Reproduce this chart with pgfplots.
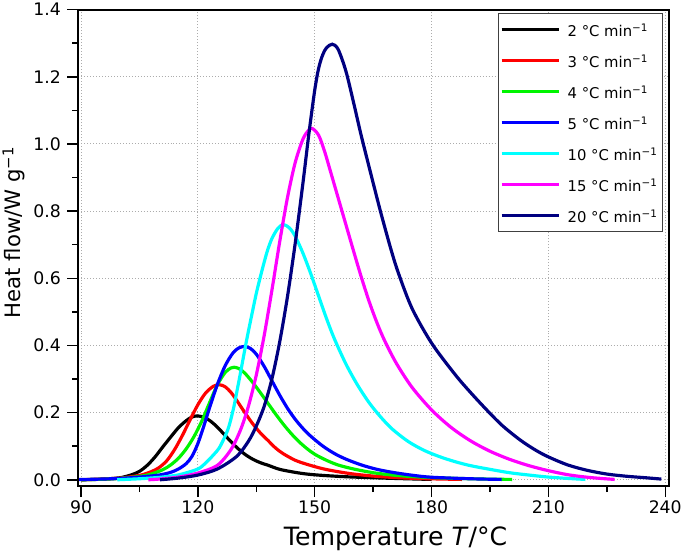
\documentclass[border=0pt]{standalone}
\usepackage{pgfplots}
\pgfplotsset{compat=1.18}
\usepackage{fontspec}
\setmainfont{DejaVu Sans}
\definecolor{cgreen}{RGB}{0,245,0}
\definecolor{cblue}{RGB}{0,0,255}
\definecolor{ccyan}{RGB}{0,255,255}
\definecolor{cmag}{RGB}{255,0,255}
\definecolor{cnavy}{RGB}{0,0,128}
\begin{document}
\begin{tikzpicture}
\begin{axis}[
  scale only axis,
  width=596bp, height=480.7bp,
  xmin=89.3, xmax=241, ymin=-0.019, ymax=1.4,
  xtick={90,120,150,180,210,240},
  minor xtick={105,135,165,195,225},
  ytick={0,0.2,0.4,0.6,0.8,1.0,1.2,1.4},
  minor ytick={0.1,0.3,0.5,0.7,0.9,1.1,1.3},
  tick align=outside,
  xtick pos=bottom, ytick pos=left,
  major tick length=11bp, minor tick length=6bp,
  tick style={black, line width=1.5bp},
  axis line style={line width=1.8bp},
  grid=major,
  major grid style={gray!65, line width=0.9bp, dash pattern=on 1bp off 2bp},
  /pgf/number format/assume math mode=true,
  ticklabel style={font=\fontsize{17.5}{20}\selectfont},
  yticklabel style={xshift=-3bp, /pgf/number format/.cd, fixed, fixed zerofill, precision=1},
  xlabel={Temperature \textit{T}/°C},
  ylabel={Heat flow/W g\textsuperscript{−1}},
  xlabel style={font=\fontsize{25.5}{28}\selectfont, at={(axis description cs:0.537,-0.110)}, anchor=center},
  ylabel style={font=\fontsize{21.5}{24}\selectfont, at={(axis description cs:-0.109,0.532)}, anchor=center},
  legend cell align=left,
  legend image code/.code={\draw[#1] (0bp,0bp) -- (58bp,0bp);},
  legend style={at={(1,1)}, anchor=north east, xshift=-7bp, yshift=-3.5bp,
    draw=black!75, line width=0.7bp,
    font=\fontsize{15}{18}\selectfont,
    inner xsep=1.5bp, inner ysep=8.6bp,
    row sep=16.3bp,
    nodes={inner sep=0pt, text height=15bp, text depth=0bp},
    /tikz/every odd column/.append style={column sep=7bp}},
  every axis plot/.append style={line width=3.2bp, smooth},
]
% 2 C/min
\addplot[black] coordinates {
(90,0.000)(95,0.0015)(100,0.006)(103,0.015)(105,0.025)(107,0.043)(109,0.068)
(111,0.098)(113,0.127)(115,0.155)(117,0.176)(118.5,0.187)(119.7,0.19)
(121,0.188)(122.5,0.1805)(124,0.1675)(126,0.1445)(128,0.1195)(130,0.096)
(132,0.0765)(134,0.0618)(136,0.051)(138,0.0433)(141,0.031)(145,0.022)
(148,0.017)(152,0.013)(158,0.009)(165,0.006)(172,0.0035)(180,0.001)};
\addlegendentry{2 °C min\textsuperscript{−1}\hspace*{12.5bp}}
% 3 C/min
\addplot[red] coordinates {
(90,0.000)(95,0.002)(100,0.005)(105,0.013)(108,0.024)(110,0.036)(112,0.0565)
(114,0.0895)(116,0.1315)(118,0.1785)(120,0.2235)(122,0.2585)(124,0.2785)
(125.5,0.283)(127,0.277)(128.5,0.26)(130,0.236)(132,0.201)(134,0.168)
(136,0.14)(138,0.117)(140,0.094)(142,0.077)(145,0.058)(148,0.046)(152,0.033)
(156,0.024)(160,0.017)(165,0.011)(170,0.007)(175,0.0045)(180,0.0028)(187.8,0.001)};
\addlegendentry{3 °C min\textsuperscript{−1}}
% 4 C/min
\addplot[cgreen] coordinates {
(90,0.000)(95,0.0015)(100,0.004)(105,0.01)(108,0.017)(111,0.03)(113,0.044)
(115,0.064)(117,0.092)(119,0.1285)(121,0.1745)(123,0.2295)(125,0.2825)
(127,0.3195)(128.5,0.333)(129.3,0.335)(130.5,0.3314)(132,0.318)(134,0.291)
(136,0.26)(138,0.2275)(140,0.195)(142,0.1645)(144,0.137)(146,0.113)(148,0.0928)
(150,0.076)(153,0.058)(156,0.044)(160,0.032)(165,0.021)(170,0.014)(175,0.0095)
(180,0.0065)(185,0.0045)(190,0.003)(195,0.0018)(200.7,0.001)};
\addlegendentry{4 °C min\textsuperscript{−1}}
% 5 C/min
\addplot[cblue] coordinates {
(89.5,0.0005)(95,0.002)(100,0.004)(105,0.008)(110,0.014)(113,0.022)(115,0.032)
(117,0.048)(118.5,0.07)(120,0.108)(121.5,0.159)(123,0.2145)(125,0.2835)
(127,0.3395)(129,0.3775)(130.5,0.3925)(132,0.397)(133.5,0.391)(135,0.374)
(137,0.338)(139,0.295)(141,0.252)(143,0.213)(145,0.18)(147,0.1525)(149,0.1295)
(152,0.101)(155,0.0785)(158,0.0615)(162,0.044)(166,0.031)(170,0.022)(175,0.0135)
(180,0.0075)(190,0.003)(198,0.001)};
\addlegendentry{5 °C min\textsuperscript{−1}}
% 10 C/min
\addplot[ccyan] coordinates {
(99.3,0.000)(105,0.003)(110,0.007)(113,0.011)(115.6,0.016)(120,0.032)(122,0.05)
(124,0.074)(125.5,0.095)(127,0.13)(128,0.16)(129.2,0.215)(130,0.262)(130.8,0.31)
(132.5,0.415)(134,0.5)(135.1,0.56)(136.5,0.625)(137.8,0.68)(139,0.718)
(140.5,0.748)(141.9,0.76)(143.5,0.75)(145,0.725)(147,0.674)(149,0.613)
(151,0.547)(153,0.481)(155,0.421)(158,0.345)(161,0.282)(164,0.229)(167,0.186)
(170,0.15)(174,0.114)(178,0.088)(182,0.069)(186,0.054)(190,0.042)(195,0.031)
(200,0.021)(205,0.014)(210,0.008)(215,0.004)(219.5,0.001)};
\addlegendentry{10 °C min\textsuperscript{−1}}
% 15 C/min
\addplot[cmag] coordinates {
(107.3,0.000)(110,0.002)(115,0.008)(120,0.02)(125,0.043)(128.5,0.09)(131,0.15)
(133,0.22)(135,0.312)(137,0.428)(139,0.564)(141,0.708)(143,0.84)(145,0.945)
(147,1.015)(148.5,1.0415)(149.4,1.046)(151,1.026)(152.5,0.979)(154,0.92)
(157,0.80)(160,0.68)(162,0.602)(164,0.53)(166,0.467)(168,0.413)(171,0.346)
(175,0.275)(180,0.208)(185,0.156)(190,0.116)(195,0.085)(200,0.061)(205,0.042)
(210,0.027)(215,0.015)(220,0.0075)(224,0.0035)(227,0.001)};
\addlegendentry{15 °C min\textsuperscript{−1}}
% 20 C/min
\addplot[cnavy] coordinates {
(110.3,0.000)(115,0.005)(120,0.014)(125,0.032)(130,0.07)(133,0.115)(135,0.16)
(137,0.218)(139,0.3)(141,0.41)(143,0.545)(145,0.705)(147,0.886)(148.5,1.03)
(150,1.16)(151,1.225)(152,1.264)(153,1.286)(154.5,1.297)(156,1.282)(158,1.217)
(160,1.122)(162,1.022)(165,0.884)(167,0.794)(169.5,0.689)(171.5,0.615)(175,0.51)
(180,0.407)(186,0.314)(190,0.26)(194.4,0.205)(198.2,0.161)(202.8,0.118)
(206.6,0.089)(210,0.068)(215,0.044)(220,0.028)(225,0.017)(230,0.0105)(235,0.006)
(239,0.002)};
\addlegendentry{20 °C min\textsuperscript{−1}}
\end{axis}
\pgfresetboundingbox
\path[use as bounding box] (current axis.south west) ++(-79bp,-69.5bp) rectangle ++(691bp,559.9bp);
\end{tikzpicture}
\end{document}
